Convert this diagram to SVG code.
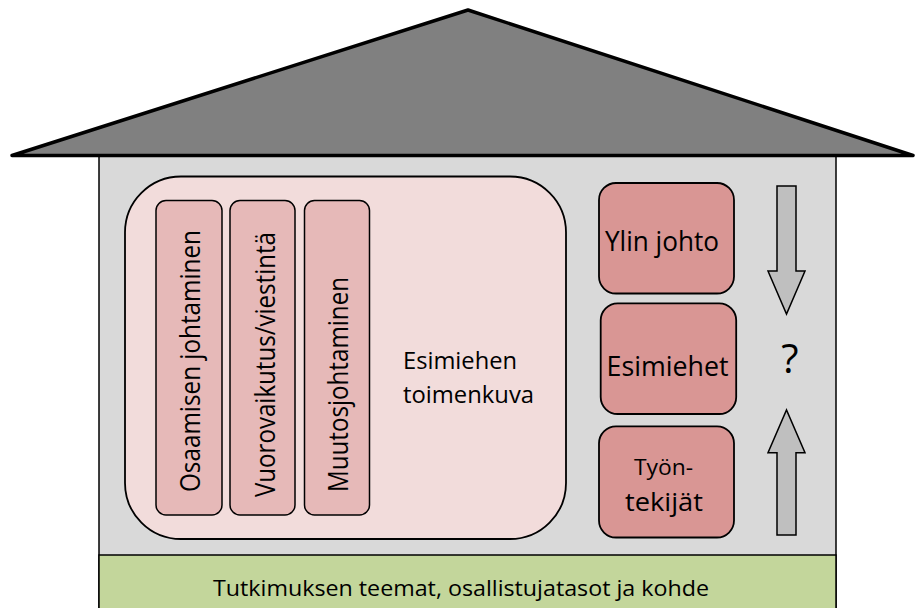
<svg xmlns="http://www.w3.org/2000/svg" width="915" height="608" viewBox="0 0 915 608">
<style>
text { font-family: "Open Sans", "Liberation Sans", sans-serif; fill: #000; }
.pillar { fill: #e6b9b8; stroke: #000; stroke-width: 1.5; }
.role { fill: #d99694; stroke: #000; stroke-width: 1.8; }
.arrow { fill: #bfbfbf; stroke: #000; stroke-width: 1.5; stroke-linejoin: miter; }
</style>
<rect width="915" height="608" fill="#fff"/>
<g id="house-body">
  <rect x="99" y="155" width="737" height="460" fill="#d9d9d9" stroke="#000" stroke-width="1.5"/>
</g>
<g id="roof">
  <polygon points="12,155.5 468,10 913,155.5" fill="#808080" stroke="#000" stroke-width="3.5" stroke-linejoin="round"/>
</g>
<g id="foundation">
  <rect x="99" y="555" width="737" height="60" fill="#c3d69b" stroke="#000" stroke-width="1.5"/>
  <text x="213" y="595.5" font-size="22" textLength="496" lengthAdjust="spacingAndGlyphs">Tutkimuksen teemat, osallistujatasot ja kohde</text>
</g>
<g id="esimiehen-toimenkuva">
  <rect x="125" y="176.5" width="441" height="362.5" rx="56" ry="56" fill="#f2dcdb" stroke="#000" stroke-width="1.8"/>
  <text x="403" y="369" font-size="24.5" textLength="114" lengthAdjust="spacingAndGlyphs">Esimiehen</text>
  <text x="403" y="403" font-size="24.5" textLength="131" lengthAdjust="spacingAndGlyphs">toimenkuva</text>
</g>
<g id="osaamisen-johtaminen">
  <rect class="pillar" x="156" y="200.5" width="66" height="314.5" rx="10" ry="10"/>
  <text transform="translate(200,492) rotate(-90)" font-size="26.5" textLength="262" lengthAdjust="spacingAndGlyphs">Osaamisen johtaminen</text>
</g>
<g id="vuorovaikutus">
  <rect class="pillar" x="230" y="200.5" width="65" height="314.5" rx="10" ry="10"/>
  <text transform="translate(275,497) rotate(-90)" font-size="26.5" textLength="265" lengthAdjust="spacingAndGlyphs">Vuorovaikutus/viestintä</text>
</g>
<g id="muutosjohtaminen">
  <rect class="pillar" x="304.5" y="200.5" width="65" height="314.5" rx="10" ry="10"/>
  <text transform="translate(348,492) rotate(-90)" font-size="26.5" textLength="215" lengthAdjust="spacingAndGlyphs">Muutosjohtaminen</text>
</g>
<g id="ylin-johto">
  <rect class="role" x="599" y="183" width="135" height="110.5" rx="17" ry="17"/>
  <text x="605" y="251" font-size="27.5" textLength="114" lengthAdjust="spacingAndGlyphs">Ylin johto</text>
</g>
<g id="esimiehet">
  <rect class="role" x="600.7" y="303.3" width="135.5" height="110.7" rx="17" ry="17"/>
  <text x="606.5" y="376" font-size="27" textLength="122" lengthAdjust="spacingAndGlyphs">Esimiehet</text>
</g>
<g id="tyontekijat">
  <rect class="role" x="599" y="426.3" width="135" height="111.2" rx="17" ry="17"/>
  <text x="634" y="475" font-size="21.5" textLength="59" lengthAdjust="spacingAndGlyphs">Työn-</text>
  <text x="625" y="510.7" font-size="25.5" textLength="78" lengthAdjust="spacingAndGlyphs">tekijät</text>
</g>
<g id="connectors">
  <polygon class="arrow" points="777,186 796,186 796,271 805,271 786.5,314 768,271 777,271"/>
  <polygon class="arrow" points="777,535 796,535 796,452.7 805,452.7 786.5,410 768,452.7 777,452.7"/>
</g>
<g id="question">
  <text x="790" y="373" font-size="40" text-anchor="middle">?</text>
</g>
</svg>
